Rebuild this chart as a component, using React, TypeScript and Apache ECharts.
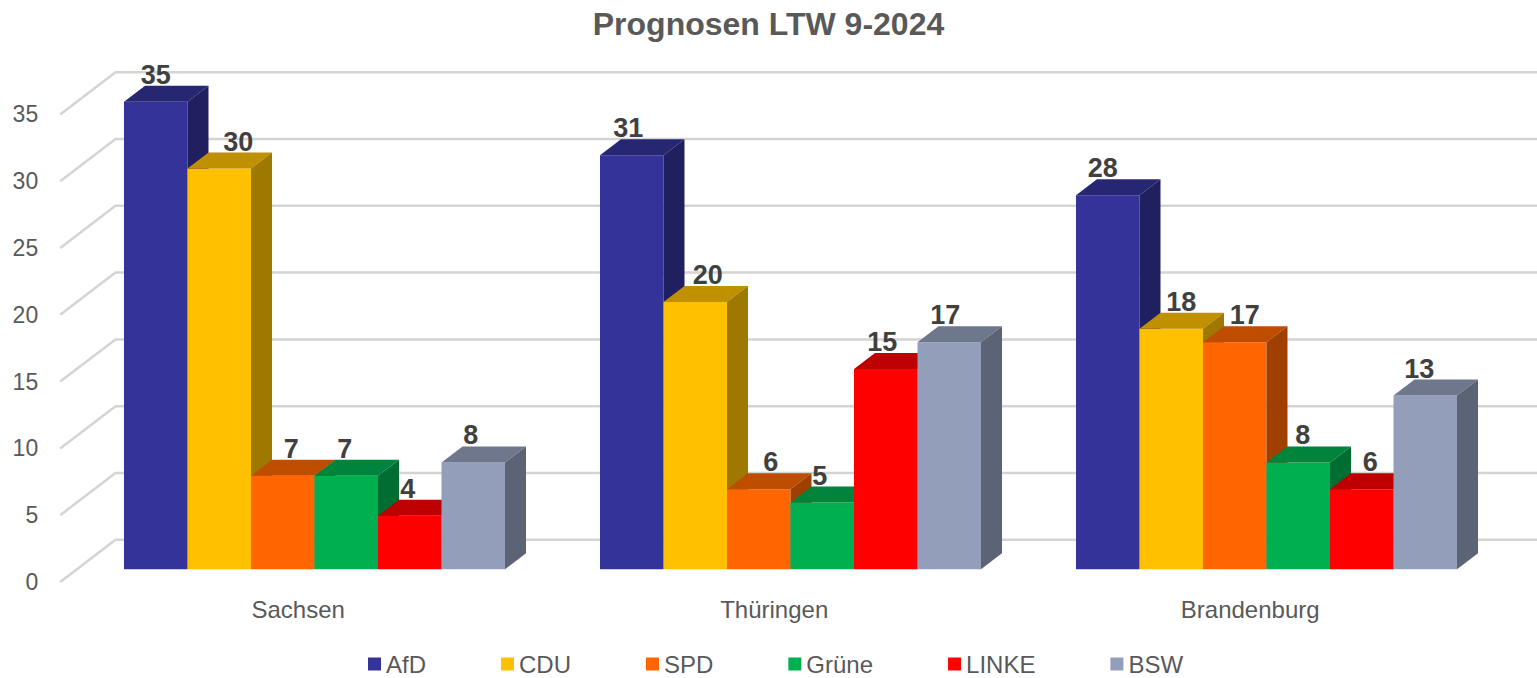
import React, { useEffect, useRef } from "react";
import * as echarts from "echarts";

const categories = ["Sachsen", "Thüringen", "Brandenburg"];
const parties = ["AfD", "CDU", "SPD", "Grüne", "LINKE", "BSW"];
const afd = [35, 31, 28];
const cdu = [30, 20, 18];
const spd = [7, 6, 17];
const gruene = [7, 5, 8];
const linke = [4, 15, 6];
const bsw = [8, 17, 13];
const yTicks = [0, 5, 10, 15, 20, 25, 30, 35];

const partyValues = [afd, cdu, spd, gruene, linke, bsw];
const partyColors = ["#333399", "#FFC000", "#FF6600", "#00B050", "#FF0000", "#939EBB"];

// label placement tweaks (pixels, horizontal), as in the original chart's label layout
const labelNudgeX = [
  [0, -3.5, -5],
  [19, 12.5, 10],
  [8.5, 12, 10],
  [-1.5, -2.5, 4.5],
  [-2, -3.5, 8.5],
  [-2.5, -4, -6],
];

function shade(hex: string, f: number) {
  const n = parseInt(hex.slice(1), 16);
  const r = Math.round(((n >> 16) & 255) * f);
  const g = Math.round(((n >> 8) & 255) * f);
  const b = Math.round((n & 255) * f);
  return `rgb(${r},${g},${b})`;
}

const FONT = '"Liberation Sans", Arial, sans-serif';
const DX = 21;
const DY = 16;
const WX = 39;
const WY = 29.5;
const FX = -16.3;
const FY = 12.7;

export default function App() {
  const ref = useRef<HTMLDivElement>(null);
  useEffect(() => {
    if (!ref.current) return;
    const chart = echarts.init(ref.current, null, { renderer: "svg" });
    const nP = parties.length;

    const barSeries = parties.map((name, i) => ({
      name,
      type: "custom",
      xAxisIndex: 0,
      yAxisIndex: 0,
      itemStyle: { color: partyColors[i] },
      data: partyValues[i].map((v, ci) => [ci, v]),
      renderItem: (params: any, api: any) => {
        const ci = api.value(0);
        const v = api.value(1);
        const [cx, cy] = api.coord([ci, v]);
        const base = api.coord([ci, 0])[1];
        const band = api.size([1, 0])[0];
        const bw = (band * 63.5) / 476;
        const left = cx - (nP / 2) * bw + i * bw;
        const right = left + bw;
        const col = partyColors[i];
        return {
          type: "group",
          children: [
            {
              type: "rect",
              shape: { x: left, y: cy, width: bw, height: base - cy },
              style: { fill: col },
            },
            {
              type: "polygon",
              shape: {
                points: [
                  [left, cy],
                  [left + DX, cy - DY],
                  [right + DX, cy - DY],
                  [right, cy],
                ],
              },
              style: { fill: shade(col, 0.75) },
            },
            {
              type: "polygon",
              shape: {
                points: [
                  [right, cy],
                  [right + DX, cy - DY],
                  [right + DX, base - DY],
                  [right, base],
                ],
              },
              style: { fill: shade(col, 0.625) },
            },
            {
              type: "text",
              z2: 100,
              x: left + bw / 2 + labelNudgeX[i][ci],
              y: cy - 27,
              style: {
                text: String(v),
                fill: "#404040",
                fontSize: 27,
                fontWeight: "bold",
                fontFamily: FONT,
                align: "center",
                verticalAlign: "middle",
              },
            },
          ],
        };
      },
    }));

    const gridSeries = {
      name: "grid",
      type: "custom",
      xAxisIndex: 0,
      yAxisIndex: 0,
      silent: true,
      z: 1,
      data: yTicks.map((v) => [0, v]),
      renderItem: (params: any, api: any) => {
        const y = api.coord([0, api.value(1)])[1];
        const x0 = params.coordSys.x;
        return {
          type: "polyline",
          shape: {
            points: [
              [x0 + FX, y + FY],
              [x0 + WX, y - WY],
              [1537, y - WY],
            ],
          },
          style: { stroke: "#D4D4D4", lineWidth: 2.5, fill: null },
        };
      },
    };

    chart.setOption({
      animation: false,
      backgroundColor: "#ffffff",
      title: {
        text: "Prognosen LTW 9-2024",
        left: "center",
        top: 3,
        textStyle: { fontSize: 32, fontWeight: "bold", color: "#595959", fontFamily: FONT },
      },
      legend: {
        data: parties,
        left: 368,
        top: 652,
        padding: 0,
        icon: "rect",
        itemWidth: 13,
        itemHeight: 13,
        itemGap: 75,
        textStyle: { fontSize: 24, lineHeight: 20, color: "#595959", fontFamily: FONT },
      },
      grid: [
        { left: 76.5, top: 101.7, width: 1428, height: 467.6 },
        { left: 60.2, top: 114.4, width: 1428, height: 467.6 },
      ],
      xAxis: [
        { type: "category", gridIndex: 0, data: categories, show: false },
        {
          type: "category",
          gridIndex: 1,
          data: categories,
          axisLine: { show: false },
          axisTick: { show: false },
          axisLabel: { fontSize: 24, color: "#595959", fontFamily: FONT, margin: 15 },
        },
      ],
      yAxis: [
        { type: "value", gridIndex: 0, min: 0, max: 35, interval: 5, show: false },
        {
          type: "value",
          gridIndex: 1,
          min: 0,
          max: 35,
          interval: 5,
          splitLine: { show: false },
          axisLine: { show: false },
          axisTick: { show: false },
          axisLabel: { fontSize: 23, color: "#595959", fontFamily: FONT, margin: 22 },
        },
      ],
      series: [gridSeries, ...barSeries],
    });
    return () => chart.dispose();
  }, []);
  return (
    <div
      ref={ref}
      style={{ position: "fixed", left: 0, top: 0, width: 1537, height: 678 }}
    />
  );
}
